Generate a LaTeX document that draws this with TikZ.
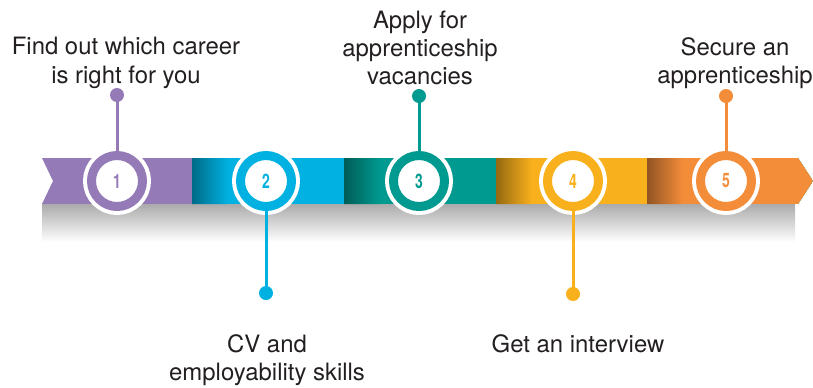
\documentclass[tikz,border=0pt]{standalone}
\usepackage{fontspec}
\setmainfont{TeX Gyre Heros}
\usetikzlibrary{positioning}
\definecolor{stepone}{HTML}{957AB8}
\definecolor{steptwo}{HTML}{00B1E1}
\definecolor{stepthree}{HTML}{009A90}
\definecolor{stepfour}{HTML}{F9B01D}
\definecolor{stepfive}{HTML}{F48D3A}
\definecolor{textgray}{HTML}{231F20}
\tikzset{
  stepring/.style={circle, draw=white, fill=white, line width=4bp, double=#1, double distance=9bp,
    minimum size=51bp, inner sep=0pt, outer sep=0pt, text=#1, font=\bfseries\fontsize{20}{20}\selectfont},
  stemline/.style={draw=#1, line width=3bp},
  stepdot/.style={circle, fill=#1, minimum size=14bp, inner sep=0pt},
  steptext/.style={align=center, text=textgray, font=\fontsize{24}{28.5}\selectfont}
}
\begin{document}
\begin{tikzpicture}[x=1bp,y=-1bp,line cap=round,line join=round]
\useasboundingbox (0,0) rectangle (813,387);
% shadow under the band
\shade[top color=black!33, bottom color=white] (42,204) rectangle (795,242);
% band
\begin{scope}
\clip (42,158) -- (798,158) -- (813,181) -- (798,204) -- (42,204) -- (53,181) -- cycle;
\fill[stepone] (42,158) rectangle (813,204);
\foreach \xa/\col in {192/steptwo,344/stepthree,496/stepfour,647/stepfive} {
  \fill[\col] (\xa,158) rectangle (813,204);
  \shade[left color=\col!60!black, right color=\col] (\xa,158) rectangle (\xa+36,204);
}
\end{scope}
% steps
\foreach \n/\xc/\col/\side/\yd in {1/117/stepone/north/95, 2/266/steptwo/south/293,
    3/419/stepthree/north/96, 4/573/stepfour/south/294, 5/726/stepfive/north/96} {
  \node[stepring=\col] (c\n) at (\xc,181) {\scalebox{0.7}[1]{\n}};
  \node[stepdot=\col] (d\n) at (\xc,\yd) {};
  \draw[stemline=\col] (c\n.\side) -- (d\n.center);
}
% texts
\node[steptext] (t1) at (126,63) {Find out which career\\is right for you};
\node[steptext] (t2) at (267,360) {CV and\\employability skills};
\node[steptext] (t3) at (420,48) {Apply for\\apprenticeship\\vacancies};
\node[steptext] (t4) at (578,344) {Get an interview};
\node[steptext] (t5) at (735,63) {Secure an\\apprenticeship};
\end{tikzpicture}
\end{document}
